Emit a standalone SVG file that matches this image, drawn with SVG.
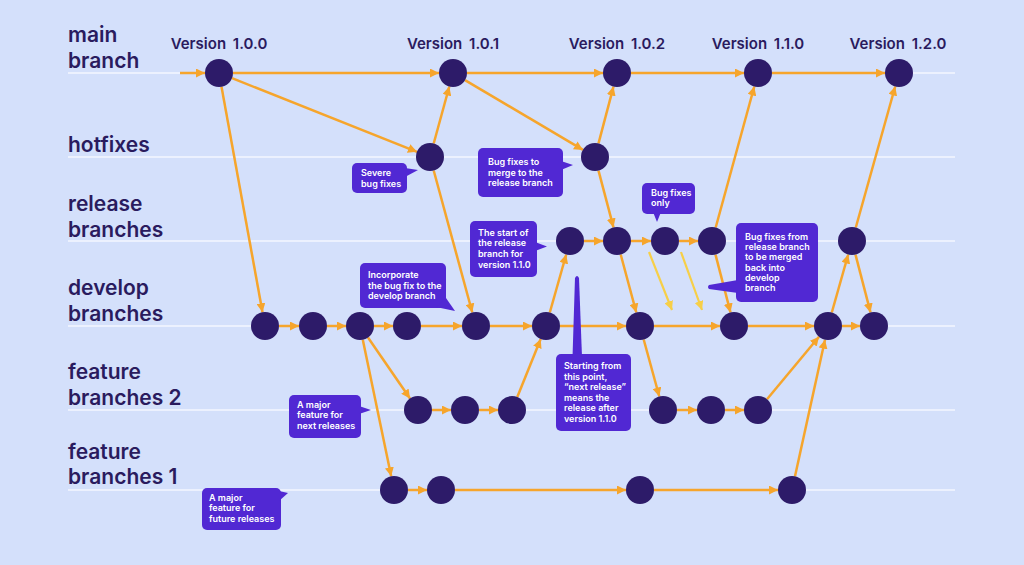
<svg xmlns="http://www.w3.org/2000/svg" width="1024" height="565" viewBox="0 0 1024 565">
<defs>
<style>
.lane{stroke:#F4F7FF;stroke-width:1.5;fill:none}
.lbl{font-family:Inter,"Liberation Sans",sans-serif;font-weight:600;font-size:21px;fill:#2A1B5E}
.ver{font-family:Inter,"Liberation Sans",sans-serif;font-weight:600;font-size:15px;fill:#2A1B5E;text-anchor:middle;word-spacing:3px}
.node{fill:#2D1B69}
.c{stroke:#F6A52C;stroke-width:2.5;fill:none;marker-end:url(#ao)}
.y{stroke:#F7CF48;stroke-width:2.2;fill:none;marker-end:url(#ay)}
.box{fill:#5128D3}
.nt{font-family:Inter,"Liberation Sans",sans-serif;font-weight:600;font-size:9px;fill:#FFFFFF}
</style>
<marker id="ao" viewBox="0 0 10 10" refX="10" refY="5" markerWidth="9" markerHeight="9" markerUnits="userSpaceOnUse" orient="auto"><path d="M0,0 L10,5 L0,10 z" fill="#F6A52C"/></marker>
<marker id="ay" viewBox="0 0 10 10" refX="10" refY="5" markerWidth="9" markerHeight="9" markerUnits="userSpaceOnUse" orient="auto"><path d="M0,0 L10,5 L0,10 z" fill="#F7CF48"/></marker>
</defs>
<rect x="0" y="0" width="1024" height="565" fill="#D4E0FB"/>

<g id="lanes">
<line class="lane" x1="68" y1="73" x2="955" y2="73"/>
<line class="lane" x1="68" y1="157" x2="955" y2="157"/>
<line class="lane" x1="68" y1="241" x2="955" y2="241"/>
<line class="lane" x1="68" y1="326" x2="955" y2="326"/>
<line class="lane" x1="68" y1="410" x2="955" y2="410"/>
<line class="lane" x1="68" y1="490" x2="955" y2="490"/>
</g>

<g id="labels">
<text class="lbl" x="68" y="42">main</text>
<text class="lbl" x="68" y="68">branch</text>
<text class="lbl" x="68" y="152">hotfixes</text>
<text class="lbl" x="68" y="211">release</text>
<text class="lbl" x="68" y="237">branches</text>
<text class="lbl" x="68" y="295">develop</text>
<text class="lbl" x="68" y="321">branches</text>
<text class="lbl" x="68" y="379">feature</text>
<text class="lbl" x="68" y="405">branches 2</text>
<text class="lbl" x="68" y="459">feature</text>
<text class="lbl" x="68" y="484">branches 1</text>
<text class="ver" x="219" y="49">Version 1.0.0</text>
<text class="ver" x="453" y="49">Version 1.0.1</text>
<text class="ver" x="617" y="49">Version 1.0.2</text>
<text class="ver" x="758" y="49">Version 1.1.0</text>
<text class="ver" x="898" y="49">Version 1.2.0</text>
</g>

<g id="connectors">
<line class="c" x1="180" y1="73" x2="205" y2="73"/>
<line class="c" x1="233" y1="73" x2="439" y2="73"/>
<line class="c" x1="467" y1="73" x2="603" y2="73"/>
<line class="c" x1="631" y1="73" x2="744" y2="73"/>
<line class="c" x1="772" y1="73" x2="885" y2="73"/>
<line class="c" x1="584" y1="241" x2="603" y2="241"/>
<line class="c" x1="631" y1="241" x2="651" y2="241"/>
<line class="c" x1="679" y1="241" x2="698" y2="241"/>
<line class="c" x1="279" y1="326" x2="299" y2="326"/>
<line class="c" x1="327" y1="326" x2="346" y2="326"/>
<line class="c" x1="374" y1="326" x2="393" y2="326"/>
<line class="c" x1="421" y1="326" x2="462" y2="326"/>
<line class="c" x1="490" y1="326" x2="532" y2="326"/>
<line class="c" x1="560" y1="326" x2="626" y2="326"/>
<line class="c" x1="654" y1="326" x2="720" y2="326"/>
<line class="c" x1="748" y1="326" x2="814" y2="326"/>
<line class="c" x1="842" y1="326" x2="860" y2="326"/>
<line class="c" x1="432" y1="410" x2="451" y2="410"/>
<line class="c" x1="479" y1="410" x2="498" y2="410"/>
<line class="c" x1="677" y1="410" x2="697" y2="410"/>
<line class="c" x1="725" y1="410" x2="744" y2="410"/>
<line class="c" x1="408" y1="490" x2="427" y2="490"/>
<line class="c" x1="455" y1="490" x2="626" y2="490"/>
<line class="c" x1="654" y1="490" x2="778" y2="490"/>
<line class="c" x1="232" y1="78.2" x2="417" y2="151.8"/>
<line class="c" x1="221.5" y1="86.8" x2="262.5" y2="312.2"/>
<line class="c" x1="433.7" y1="143.5" x2="449.3" y2="86.5"/>
<line class="c" x1="433.7" y1="170.5" x2="472.3" y2="312.5"/>
<line class="c" x1="465" y1="80.1" x2="583" y2="149.9"/>
<line class="c" x1="598.5" y1="143.4" x2="613.5" y2="86.6"/>
<line class="c" x1="598.5" y1="170.6" x2="613.5" y2="227.4"/>
<line class="c" x1="715.7" y1="227.5" x2="754.3" y2="86.5"/>
<line class="c" x1="620.7" y1="254.5" x2="636.3" y2="312.5"/>
<line class="c" x1="715.5" y1="254.6" x2="730.5" y2="312.4"/>
<line class="c" x1="368" y1="337.5" x2="410" y2="398.5"/>
<line class="c" x1="362.8" y1="339.7" x2="391.2" y2="476.3"/>
<line class="c" x1="517.3" y1="397" x2="540.7" y2="339"/>
<line class="c" x1="549.8" y1="312.5" x2="566.2" y2="254.5"/>
<line class="c" x1="643.7" y1="339.5" x2="659.3" y2="396.5"/>
<line class="c" x1="767" y1="399.2" x2="819" y2="336.8"/>
<line class="c" x1="795" y1="476.3" x2="825" y2="339.7"/>
<line class="c" x1="831.8" y1="312.5" x2="848.2" y2="254.5"/>
<line class="c" x1="855.8" y1="227.5" x2="895.2" y2="86.5"/>
<line class="c" x1="855.5" y1="254.6" x2="870.5" y2="312.4"/>
<line class="y" x1="649" y1="252" x2="672" y2="310"/>
<line class="y" x1="681" y1="252" x2="702" y2="310"/>
</g>

<g id="m1"><circle class="node" cx="219" cy="73" r="14"/></g>
<g id="m2"><circle class="node" cx="453" cy="73" r="14"/></g>
<g id="m3"><circle class="node" cx="617" cy="73" r="14"/></g>
<g id="m4"><circle class="node" cx="758" cy="73" r="14"/></g>
<g id="m5"><circle class="node" cx="899" cy="73" r="14"/></g>
<g id="h1"><circle class="node" cx="430" cy="157" r="14"/></g>
<g id="h2"><circle class="node" cx="595" cy="157" r="14"/></g>
<g id="r1"><circle class="node" cx="570" cy="241" r="14"/></g>
<g id="r2"><circle class="node" cx="617" cy="241" r="14"/></g>
<g id="r3"><circle class="node" cx="665" cy="241" r="14"/></g>
<g id="r4"><circle class="node" cx="712" cy="241" r="14"/></g>
<g id="r5"><circle class="node" cx="852" cy="241" r="14"/></g>
<g id="d1"><circle class="node" cx="265" cy="326" r="14"/></g>
<g id="d2"><circle class="node" cx="313" cy="326" r="14"/></g>
<g id="d3"><circle class="node" cx="360" cy="326" r="14"/></g>
<g id="d4"><circle class="node" cx="407" cy="326" r="14"/></g>
<g id="d5"><circle class="node" cx="476" cy="326" r="14"/></g>
<g id="d6"><circle class="node" cx="546" cy="326" r="14"/></g>
<g id="d7"><circle class="node" cx="640" cy="326" r="14"/></g>
<g id="d8"><circle class="node" cx="734" cy="326" r="14"/></g>
<g id="d9"><circle class="node" cx="828" cy="326" r="14"/></g>
<g id="d10"><circle class="node" cx="874" cy="326" r="14"/></g>
<g id="f2a"><circle class="node" cx="418" cy="410" r="14"/></g>
<g id="f2b"><circle class="node" cx="465" cy="410" r="14"/></g>
<g id="f2c"><circle class="node" cx="512" cy="410" r="14"/></g>
<g id="f2d"><circle class="node" cx="663" cy="410" r="14"/></g>
<g id="f2e"><circle class="node" cx="711" cy="410" r="14"/></g>
<g id="f2f"><circle class="node" cx="758" cy="410" r="14"/></g>
<g id="f1a"><circle class="node" cx="394" cy="490" r="14"/></g>
<g id="f1b"><circle class="node" cx="441" cy="490" r="14"/></g>
<g id="f1c"><circle class="node" cx="640" cy="490" r="14"/></g>
<g id="f1d"><circle class="node" cx="792" cy="490" r="14"/></g>

<g id="note-severe">
<rect class="box" x="352" y="163" width="55" height="30" rx="5"/>
<path class="box" d="M405,168 L418,170 L405,177 Z"/>
<text class="nt" x="361" y="176">Severe</text>
<text class="nt" x="361" y="186.5">bug fixes</text>
</g>
<g id="note-merge">
<rect class="box" x="478" y="148" width="85" height="49" rx="5"/>
<path class="box" d="M561,161 L573,165 L561,170 Z"/>
<text class="nt" x="488" y="165">Bug fixes to</text>
<text class="nt" x="488" y="175.7">merge to the</text>
<text class="nt" x="488" y="186.3">release branch</text>
</g>
<g id="note-start">
<rect class="box" x="470" y="221" width="67" height="56" rx="5"/>
<path class="box" d="M535,242 L547,246.5 L535,251 Z"/>
<text class="nt" x="478" y="236">The start of</text>
<text class="nt" x="478" y="246.3">the release</text>
<text class="nt" x="478" y="257">branch for</text>
<text class="nt" x="478" y="267.7">version 1.1.0</text>
</g>
<g id="note-incorporate">
<rect class="box" x="360" y="263" width="86" height="45" rx="5"/>
<path class="box" d="M436,307 L446,298 L455,311 Z"/>
<text class="nt" x="368" y="278.3">Incorporate</text>
<text class="nt" x="368" y="288.7">the bug fix to the</text>
<text class="nt" x="368" y="299">develop branch</text>
</g>
<g id="note-only">
<rect class="box" x="642" y="183" width="53" height="31" rx="5"/>
<path class="box" d="M653,212 L661,212 L657,222 Z"/>
<text class="nt" x="651" y="196">Bug fixes</text>
<text class="nt" x="651" y="206">only</text>
</g>
<g id="note-back">
<rect class="box" x="736" y="223" width="82" height="79" rx="5"/>
<path class="box" d="M738,280 L709,285 Q707,287 709,289 L738,293 Z"/>
<text class="nt" x="745" y="239.7">Bug fixes from</text>
<text class="nt" x="745" y="250">release branch</text>
<text class="nt" x="745" y="260.3">to be merged</text>
<text class="nt" x="745" y="270.7">back into</text>
<text class="nt" x="745" y="281">develop</text>
<text class="nt" x="745" y="291.3">branch</text>
</g>
<g id="note-next">
<rect class="box" x="556" y="354" width="75" height="77" rx="5"/>
<path class="box" d="M572.5,357 L575,278 Q577,274 579,278 L582,357 Z"/>
<text class="nt" x="564" y="369">Starting from</text>
<text class="nt" x="564" y="379.7">this point,</text>
<text class="nt" x="564" y="390.3">“next release”</text>
<text class="nt" x="564" y="400.7">means the</text>
<text class="nt" x="564" y="411.3">release after</text>
<text class="nt" x="564" y="422">version 1.1.0</text>
</g>
<g id="note-major2">
<rect class="box" x="289" y="395" width="72" height="43" rx="5"/>
<path class="box" d="M359,406 L371,410 L359,414 Z"/>
<text class="nt" x="297" y="408">A major</text>
<text class="nt" x="297" y="418.3">feature for</text>
<text class="nt" x="297" y="429">next releases</text>
</g>
<g id="note-major1">
<rect class="box" x="202" y="488" width="79" height="42" rx="5"/>
<path class="box" d="M279,491 L288,493 L279,501 Z"/>
<text class="nt" x="209" y="501">A major</text>
<text class="nt" x="209" y="511.3">feature for</text>
<text class="nt" x="209" y="521.7">future releases</text>
</g>
</svg>
